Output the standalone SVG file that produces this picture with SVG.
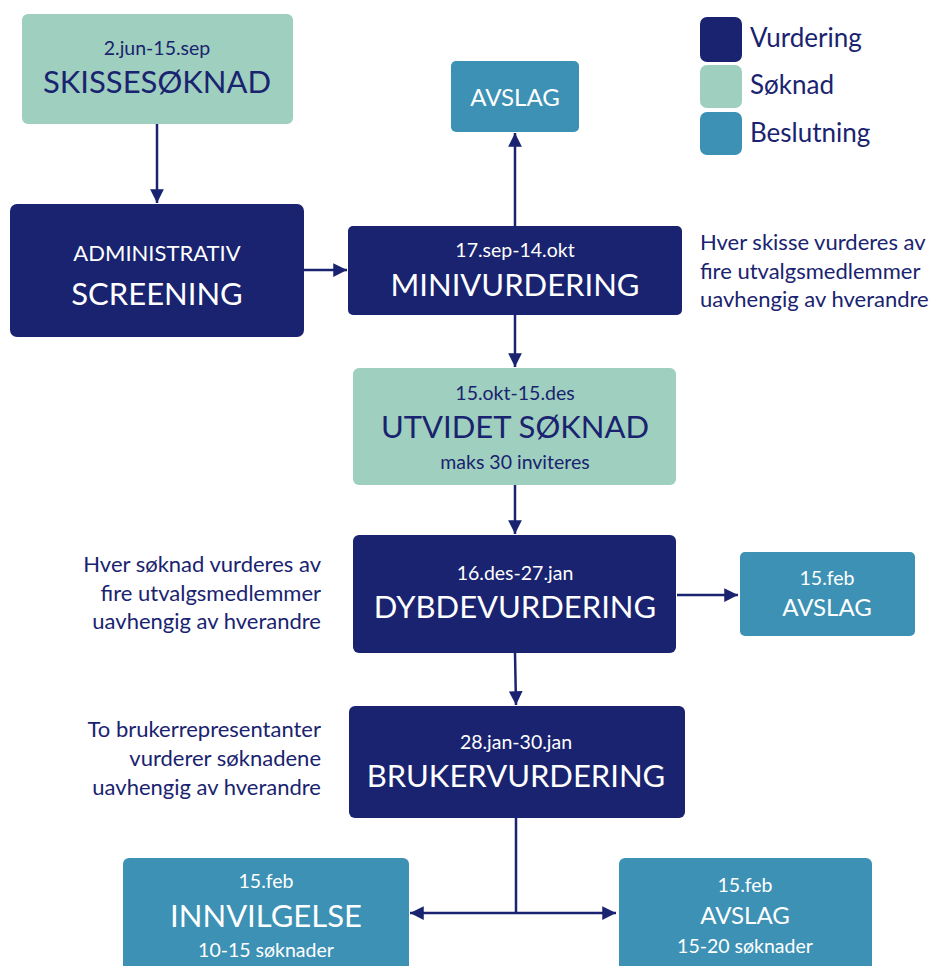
<svg xmlns="http://www.w3.org/2000/svg" width="934" height="966" viewBox="0 0 934 966">
<defs>
<style>
text{font-family:Lato,"Open Sans","Liberation Sans",sans-serif;}
.vur{fill:#19236f;}
.sok{fill:#9fcfbe;}
.bes{fill:#3c91b5;}
.w{fill:#ffffff;text-anchor:middle;}
.n{fill:#19236f;text-anchor:middle;}
.big{font-size:31px;}
.mid{font-size:22px;}
.av{font-size:24px;}
.sm{font-size:19.5px;}
.note{fill:#19236f;font-size:22px;}
.leg{fill:#19236f;font-size:26px;}
.con{stroke:#19236f;stroke-width:2.5;fill:none;}
</style>
<marker id="ah" viewBox="0 0 10 10" refX="10" refY="5" markerWidth="5.5" markerHeight="5.5" orient="auto-start-reverse" markerUnits="strokeWidth">
<path d="M0,0 L10,5 L0,10 Z" fill="#19236f"/>
</marker>
</defs>
<rect width="934" height="966" fill="#ffffff"/>

<g id="connectors">
<line class="con" x1="157" y1="124" x2="157" y2="203" marker-end="url(#ah)"/>
<line class="con" x1="304" y1="270" x2="347" y2="270" marker-end="url(#ah)"/>
<line class="con" x1="515" y1="226" x2="515" y2="133" marker-end="url(#ah)"/>
<line class="con" x1="515" y1="315" x2="515" y2="367" marker-end="url(#ah)"/>
<line class="con" x1="515" y1="485" x2="515" y2="534" marker-end="url(#ah)"/>
<line class="con" x1="677" y1="595" x2="738" y2="595" marker-end="url(#ah)"/>
<line class="con" x1="515" y1="653" x2="516" y2="705" marker-end="url(#ah)"/>
<line class="con" x1="516" y1="818" x2="516" y2="913"/>
<line class="con" x1="410" y1="913" x2="616" y2="913" marker-start="url(#ah)" marker-end="url(#ah)"/>
</g>

<g id="skissesoknad">
<rect class="sok" x="22" y="14" width="271" height="110" rx="6"/>
<text class="n sm" x="157" y="55">2.jun-15.sep</text>
<text class="n big" x="157" y="93">SKISSESØKNAD</text>
</g>

<g id="screening">
<rect class="vur" x="10" y="204" width="294" height="133" rx="7"/>
<text class="w mid" x="157" y="261">ADMINISTRATIV</text>
<text class="w big" x="157" y="305">SCREENING</text>
</g>

<g id="avslag-top">
<rect class="bes" x="451" y="61" width="128" height="71" rx="5"/>
<text class="w av" x="515" y="106">AVSLAG</text>
</g>

<g id="minivurdering">
<rect class="vur" x="348" y="226" width="334" height="89" rx="5"/>
<text class="w sm" x="515" y="257">17.sep-14.okt</text>
<text class="w big" x="515" y="296">MINIVURDERING</text>
</g>

<g id="note-mini">
<text class="note" x="700" y="250">Hver skisse vurderes av</text>
<text class="note" x="700" y="279">fire utvalgsmedlemmer</text>
<text class="note" x="700" y="307">uavhengig av hverandre</text>
</g>

<g id="legend">
<rect class="vur" x="700" y="17" width="42" height="45" rx="7"/>
<rect class="sok" x="700" y="65" width="42" height="43" rx="7"/>
<rect class="bes" x="700" y="112" width="42" height="43" rx="7"/>
<text class="leg" x="750" y="47">Vurdering</text>
<text class="leg" x="750" y="94">Søknad</text>
<text class="leg" x="750" y="142">Beslutning</text>
</g>

<g id="utvidet">
<rect class="sok" x="353" y="368" width="323" height="117" rx="6"/>
<text class="n sm" x="515" y="400">15.okt-15.des</text>
<text class="n big" x="515" y="438">UTVIDET SØKNAD</text>
<text class="n sm" x="515" y="469">maks 30 inviteres</text>
</g>

<g id="dybdevurdering">
<rect class="vur" x="353" y="535" width="323" height="118" rx="6"/>
<text class="w sm" x="515" y="580">16.des-27.jan</text>
<text class="w big" x="515" y="618">DYBDEVURDERING</text>
</g>

<g id="avslag-dybde">
<rect class="bes" x="740" y="552" width="175" height="84" rx="5"/>
<text class="w sm" x="827" y="585">15.feb</text>
<text class="w av" x="827" y="616">AVSLAG</text>
</g>

<g id="note-dybde">
<text class="note" x="321" y="572" text-anchor="end">Hver søknad vurderes av</text>
<text class="note" x="321" y="601" text-anchor="end">fire utvalgsmedlemmer</text>
<text class="note" x="321" y="629" text-anchor="end">uavhengig av hverandre</text>
</g>

<g id="brukervurdering">
<rect class="vur" x="349" y="706" width="336" height="112" rx="6"/>
<text class="w sm" x="516" y="749">28.jan-30.jan</text>
<text class="w big" x="516" y="787">BRUKERVURDERING</text>
</g>

<g id="note-bruker">
<text class="note" x="321" y="737" text-anchor="end">To brukerrepresentanter</text>
<text class="note" x="321" y="766" text-anchor="end">vurderer søknadene</text>
<text class="note" x="321" y="795" text-anchor="end">uavhengig av hverandre</text>
</g>

<g id="innvilgelse">
<rect class="bes" x="123" y="858" width="286" height="120" rx="6"/>
<text class="w sm" x="266" y="888">15.feb</text>
<text class="w big" x="266" y="927">INNVILGELSE</text>
<text class="w sm" x="266" y="957">10-15 søknader</text>
</g>

<g id="avslag-bruker">
<rect class="bes" x="619" y="858" width="253" height="120" rx="6"/>
<text class="w sm" x="745" y="892">15.feb</text>
<text class="w av" x="745" y="924">AVSLAG</text>
<text class="w sm" x="745" y="953">15-20 søknader</text>
</g>
</svg>
